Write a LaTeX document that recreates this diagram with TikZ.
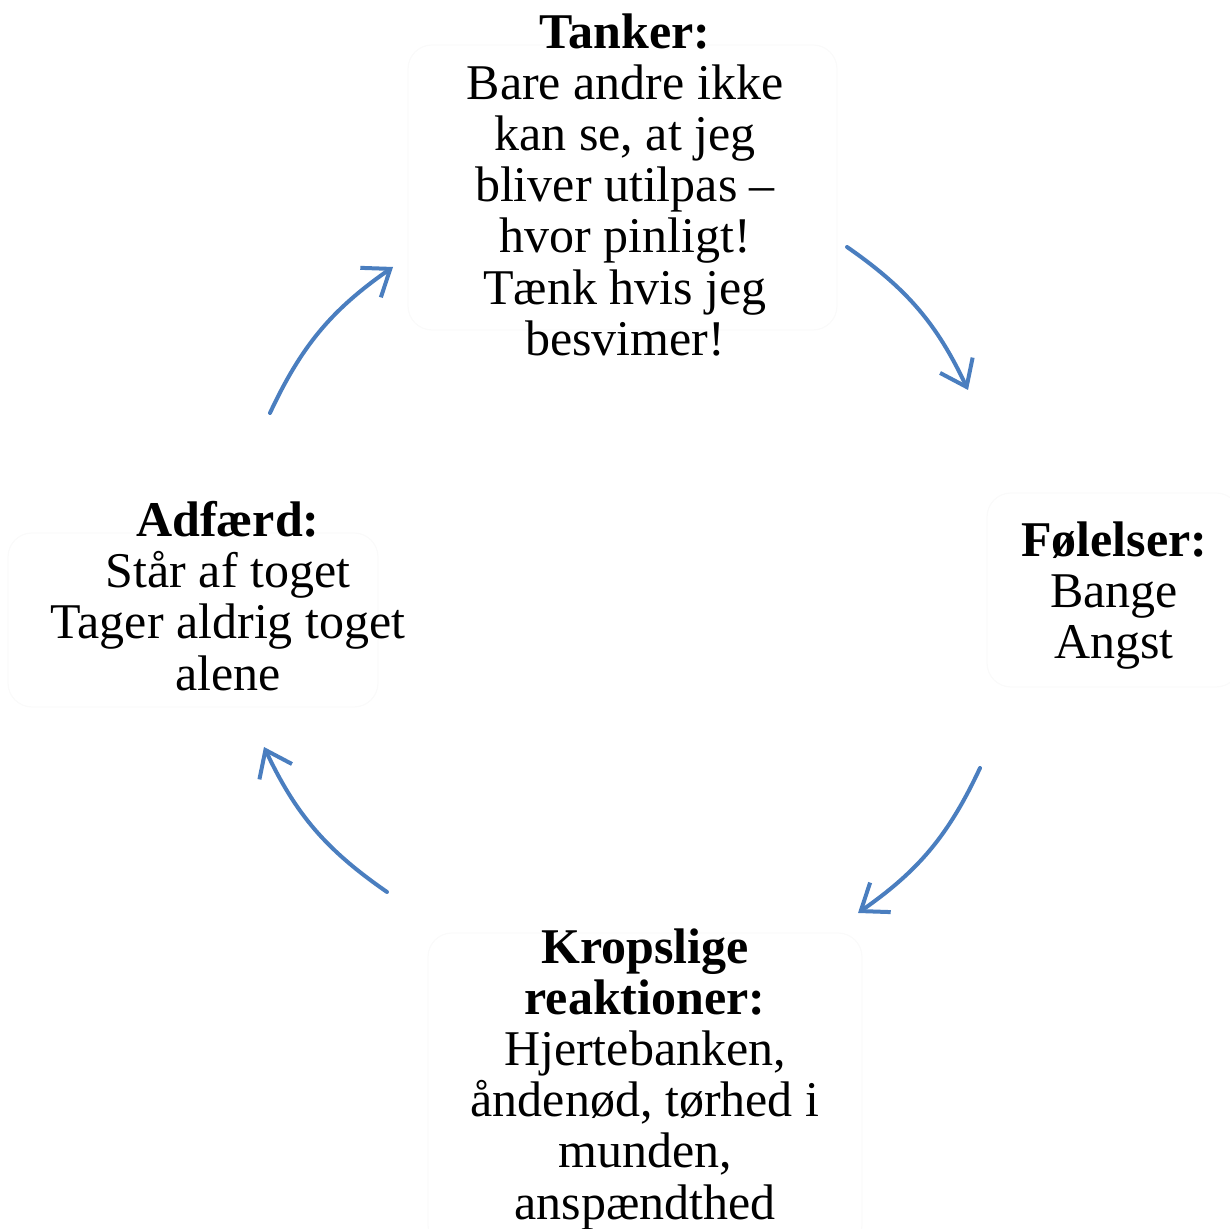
\documentclass[tikz,border=0pt]{standalone}
\usepackage{fontspec}
\setmainfont{Liberation Serif}
\usetikzlibrary{arrows.meta}
\definecolor{arrowblue}{HTML}{4A7EBF}
\tikzset{
  txt/.style={align=center, inner sep=0pt, anchor=north, font=\fontsize{25}{25.6}\selectfont},
  faintbox/.style={draw=black!2, line width=0.6pt, rounded corners=12pt},
  cyc/.style={draw=arrowblue, line width=2pt, line cap=round, bend left=15,
    -{Straight Barb[length=12pt,width=18pt,line width=2pt]}}
}
\begin{document}
\begin{tikzpicture}[x=0.5pt,y=0.5pt]
\useasboundingbox (0,0) rectangle (1230,1229);
% faint boxes
\draw[faintbox] (408,1184) rectangle (837,899);
\draw[faintbox] (987,736) rectangle (1240,542);
\draw[faintbox] (8,696) rectangle (378,522);
\draw[faintbox] (428,296) rectangle (862,-20);
% texts
\node[txt] (tanker) at (625,1216) {\textbf{Tanker:}\\Bare andre ikke\\kan se, at jeg\\bliver utilpas –\\hvor pinligt!\\Tænk hvis jeg\\besvimer!};
\node[txt] (foel) at (1114,708) {\textbf{Følelser:}\\Bange\\Angst};
\node[txt] (adf) at (228,728) {\textbf{Adfærd:}\\Står af toget\\Tager aldrig toget\\alene};
\node[txt] (krop) at (645,301) {\textbf{Kropslige}\\\textbf{reaktioner:}\\Hjertebanken,\\åndenød, tørhed i\\munden,\\anspændthed};
% arrow ends
\coordinate (a1s) at (847,982);
\coordinate (a1e) at (968,839);
\coordinate (a2s) at (980,461);
\coordinate (a2e) at (858,316);
\coordinate (a3s) at (387,337);
\coordinate (a3e) at (264,482);
\coordinate (a4s) at (270,816);
\coordinate (a4e) at (393,962);
\draw[cyc] (a1s) to (a1e);
\draw[cyc] (a2s) to (a2e);
\draw[cyc] (a3s) to (a3e);
\draw[cyc] (a4s) to (a4e);
\end{tikzpicture}
\end{document}
